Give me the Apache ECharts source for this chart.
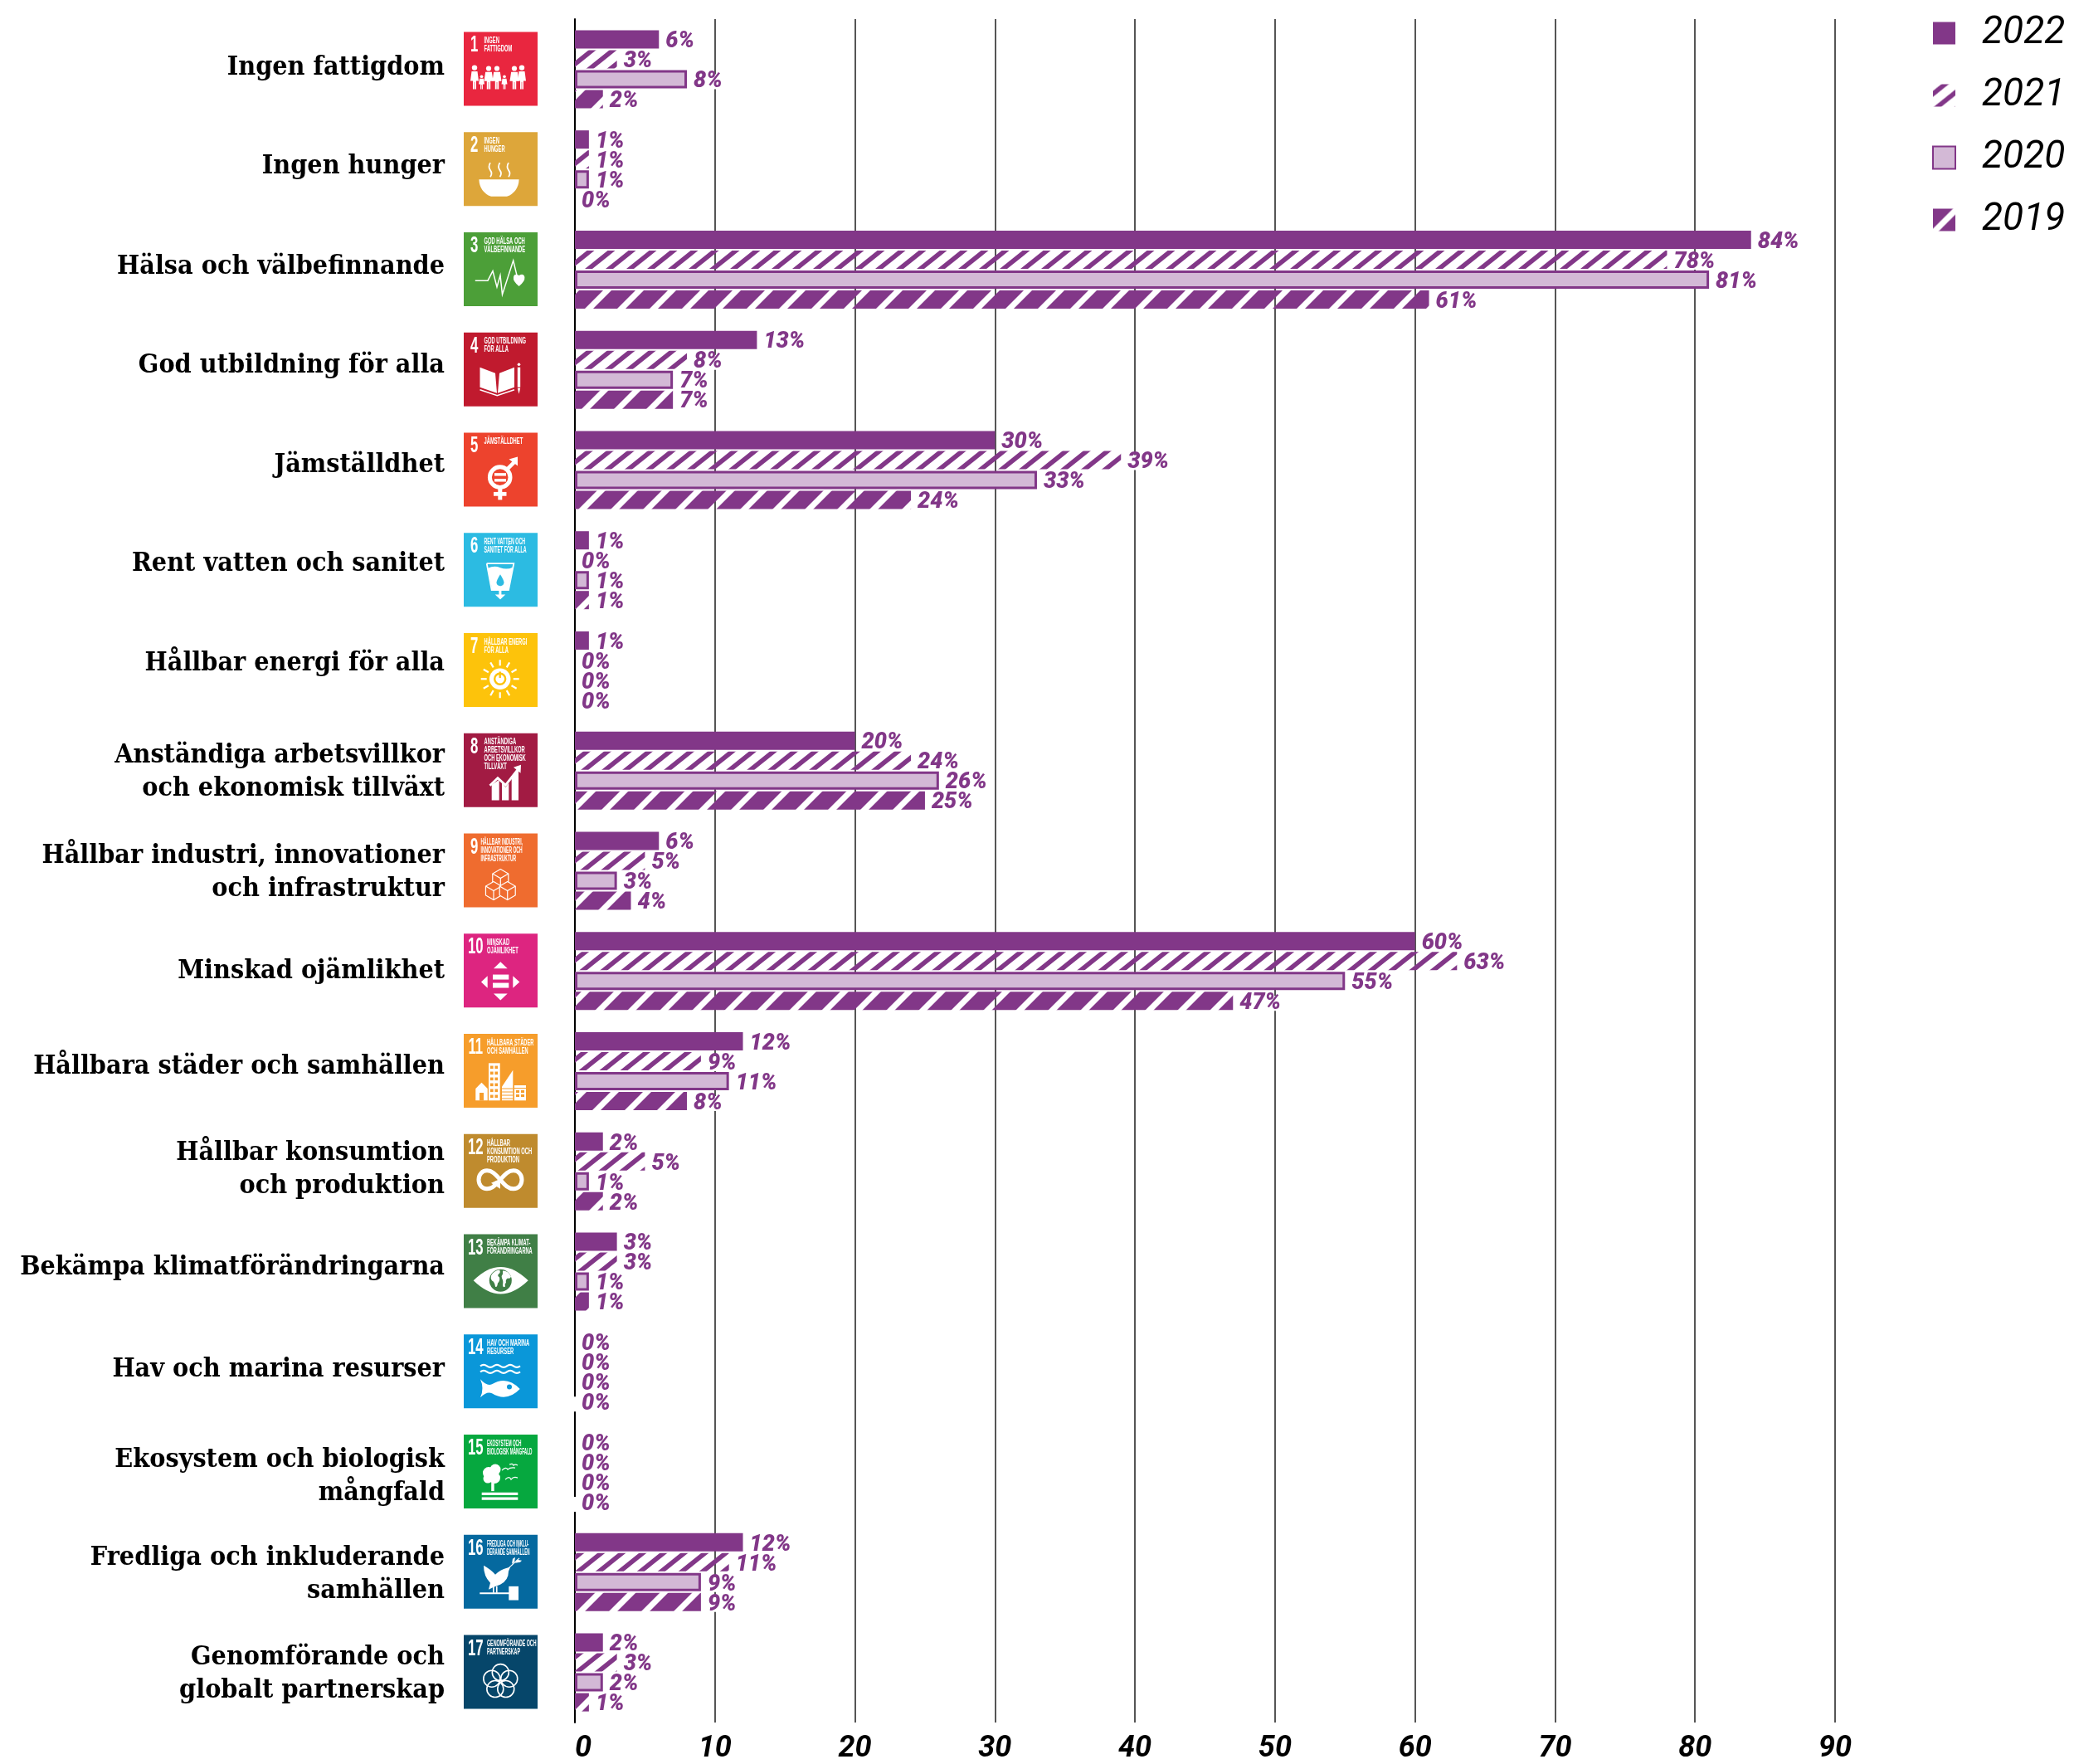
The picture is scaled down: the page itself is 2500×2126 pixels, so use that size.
<!DOCTYPE html>
<html>
<head>
<meta charset="utf-8">
<style>html,body{margin:0;padding:0;background:#fff}#c{width:2500px;height:2126px}</style>
<script src="https://cdn.jsdelivr.net/npm/echarts@6/dist/echarts.min.js"></script>
</head>
<body>
<div id="c"></div>
<script>
var categories = ['Ingen fattigdom','Ingen hunger','Hälsa och välbefinnande','God utbildning för alla','Jämställdhet','Rent vatten och sanitet','Hållbar energi för alla','Anständiga arbetsvillkor\noch ekonomisk tillväxt','Hållbar industri, innovationer\noch infrastruktur','Minskad ojämlikhet','Hållbara städer och samhällen','Hållbar konsumtion\noch produktion','Bekämpa klimatförändringarna','Hav och marina resurser','Ekosystem och biologisk\nmångfald','Fredliga och inkluderande\nsamhällen','Genomförande och\nglobalt partnerskap'];
var v2022 = [6,1,84,13,30,1,1,20,6,60,12,2,3,0,0,12,2];
var v2021 = [3,1,78,8,39,0,0,24,5,63,9,5,3,0,0,11,3];
var v2020 = [8,1,81,7,33,1,0,26,3,55,11,1,1,0,0,9,2];
var v2019 = [2,0,61,7,24,1,0,25,4,47,8,2,1,0,0,9,1];
var tileTitles = ['INGEN\nFATTIGDOM','INGEN\nHUNGER','GOD HÄLSA OCH\nVÄLBEFINNANDE','GOD UTBILDNING\nFÖR ALLA','JÄMSTÄLLDHET','RENT VATTEN OCH\nSANITET FÖR ALLA','HÅLLBAR ENERGI\nFÖR ALLA','ANSTÄNDIGA\nARBETSVILLKOR\nOCH EKONOMISK\nTILLVÄXT','HÅLLBAR INDUSTRI,\nINNOVATIONER OCH\nINFRASTRUKTUR','MINSKAD\nOJÄMLIKHET','HÅLLBARA STÄDER\nOCH SAMHÄLLEN','HÅLLBAR\nKONSUMTION OCH\nPRODUKTION','BEKÄMPA KLIMAT-\nFÖRÄNDRINGARNA','HAV OCH MARINA\nRESURSER','EKOSYSTEM OCH\nBIOLOGISK MÅNGFALD','FREDLIGA OCH INKLU-\nDERANDE SAMHÄLLEN','GENOMFÖRANDE OCH\nPARTNERSKAP'];
var tileColors = ['#e9263f','#dda63a','#4c9f38','#c01a2e','#ed432d','#2cbbe2','#fdc30b','#a21b43','#ef6c2f','#dd2580','#f69d2b','#bf8b2e','#407f46','#0a97d9','#06a83f','#05699f','#06466a'];
var labelNudge = [-2,-3,-3,-5,-6,-8,-8,2,2,0,-5,-2,-5,-3,6,3,2];
var axisCutRows = [13, 14];
var PURPLE = '#823788', LIGHT = '#d3b9d6', W = '#fff';

function hatch(pw, ph, width, phase) {
  var c = document.createElement('canvas');
  c.width = pw; c.height = ph;
  var g = c.getContext('2d');
  g.fillStyle = PURPLE;
  for (var k = -2; k <= 3; k++) {
    var x = k * pw + phase;
    g.beginPath();
    g.moveTo(x, 0); g.lineTo(x + width, 0); g.lineTo(x + width - pw, ph); g.lineTo(x - pw, ph);
    g.closePath(); g.fill();
  }
  return c;
}

/* tile pictogram helpers: coordinates are inside a 89 x 89 tile */
function P(d, fill, stroke, lw) {
  return {type:'path', shape:{pathData:'M0 0L0 0M89 89L89 89' + d, x:0, y:0, width:89, height:89, layout:'cover'},
          style:{fill:fill === undefined ? W : fill, stroke:stroke || null, lineWidth:lw || 0}};
}
function poly(pts, fill) { return {type:'polygon', shape:{points:pts}, style:{fill:fill || W}}; }
function line(pts, lw, col) { return {type:'polyline', shape:{points:pts}, style:{fill:null, stroke:col || W, lineWidth:lw || 1.5}}; }
function rect(x, y, w, h, fill) { return {type:'rect', shape:{x:x, y:y, width:w, height:h}, style:{fill:fill || W}}; }
function circ(x, y, r, fill) { return {type:'circle', shape:{cx:x, cy:y, r:r}, style:{fill:fill || W}}; }
function rng(x, y, r, lw, col) { return {type:'circle', shape:{cx:x, cy:y, r:r}, style:{fill:null, stroke:col || W, lineWidth:lw}}; }
function person(cx, top, h, w) {
  var r = h * 0.11;
  return [circ(cx, top + r, r), poly([[cx - w * .35, top + 2.4 * r], [cx + w * .35, top + 2.4 * r], [cx + w * .5, top + h * .66], [cx + w * .2, top + h * .66], [cx + w * .2, top + h], [cx + .3, top + h], [cx + .3, top + h * .7], [cx - .3, top + h * .7], [cx - .3, top + h], [cx - w * .2, top + h], [cx - w * .2, top + h * .66], [cx - w * .5, top + h * .66]])];
}
function cube(cx, cy, r, col) {
  var h = r * .866, lw = 1.2;
  return [poly([[cx, cy - r], [cx + h, cy - r / 2], [cx + h, cy + r / 2], [cx, cy + r], [cx - h, cy + r / 2], [cx - h, cy - r / 2]], col),
    line([[cx, cy - r], [cx + h, cy - r / 2], [cx + h, cy + r / 2], [cx, cy + r], [cx - h, cy + r / 2], [cx - h, cy - r / 2], [cx, cy - r]], lw),
    line([[cx - h, cy - r / 2], [cx, cy], [cx + h, cy - r / 2]], lw), line([[cx, cy], [cx, cy + r]], lw)];
}
var icons = [
  function () { return [].concat(person(13,40,29,10), person(21.5,52,17,7), person(30,41,28,11), person(40,41,28,11), person(49,52,17,7), person(61,41,28,11), person(70,40,29,10)); },
  function () { return [P('M18.4 57L66.6 57Q66 72 52 77.7L33 77.7Q19 72 18.4 57Z'),
    P('M32 37Q29 42 32 46Q35 50 32 54', null, W, 1.8), P('M43.5 37Q40.5 42 43.5 46Q46.5 50 43.5 54', null, W, 1.8), P('M54 37Q51 42 54 46Q57 50 54 54', null, W, 1.8)]; },
  function () { return [line([[13.8,58.3],[29,58.3],[35,46.7],[40,66],[44,52],[46.5,75],[59.7,34],[64,52]], 1.5),
    P('M66.6 65Q59 59 60 54Q61 49 66.6 52Q72 49 73.4 54Q74 59 66.6 65Z')]; },
  function (c) { return [poly([[19.5,42],[38,49],[40,73],[19.5,66]]), poly([[61,42],[43,49],[41,73],[61,66]]), line([[19.5,69],[40.3,76],[61,69]],1.5), rect(64.8,42,3.4,24), poly([[64.8,67],[68.2,67],[66.5,74]]), circ(66.5,38.5,1.8)]; },
  function (c) { return [rng(43.7,53.7,12.3,5), line([[52,44.5],[63,33.5]],4.5), poly([[54.5,32],[65,29],[65,40]]), rect(41.3,66,5,15), rect(36,71.5,15.5,4.8), rect(37,48.7,14,3.4), rect(37,55.7,14,3.4)]; },
  function (c) { return [line([[27.7,37],[60.3,37],[54,69],[33.7,69],[27.7,37]],1.8), P('M29 42.5Q37 39 44 42Q52 45 59 41.5L53.5 69L34.3 69Z'), P('M44 50Q39 58 39.5 60.5A4.6 4.6 0 0 0 48.5 60.5Q49 58 44 50Z', c), rect(42.4,69,3,7), poly([[37.7,74.3],[50.3,74.3],[44,80.3]])]; },
  function (c) { var out = [circ(43.7,55.3,12.7), rng(43.7,55.3,6.5,2.4,c), rect(42.5,46.5,2.4,7.5,c)];
    for (var i = 0; i < 12; i++) { var a = i * Math.PI / 6, s = Math.sin(a), k = Math.cos(a); out.push(line([[43.7 + 16 * s, 55.3 + 16 * k], [43.7 + 23 * s, 55.3 + 23 * k]], 2.2)); }
    return out; },
  function () { return [poly([[33.7,62],[42.7,56],[42.7,80.7],[33.7,80.7]]), poly([[46,59],[50.5,65],[54.3,60],[54.3,80.7],[46,80.7]]), poly([[57.7,52],[66,44],[66,80.7],[57.7,80.7]]),
    line([[31.5,63],[41,54],[50.5,62.5],[65,44]],2.8), poly([[60,41],[69,38],[68.5,48]])]; },
  function (c) { return [].concat(cube(44.3,54,11,c), cube(36,69,11,c), cube(52.7,69,11,c)); },
  function () { return [poly([[36,42],[52.7,42],[44.3,34]]), poly([[36,72.3],[52.7,72.3],[44.3,80.3]]), poly([[28.7,51],[28.7,65.5],[21,58.3]]), poly([[59.3,51],[59.3,65.5],[67.3,58.3]]), rect(35,49.3,19.3,6), rect(35,59.3,19.3,6)]; },
  function (c) { var o = [poly([[21.5,58.7],[28.7,66],[28.7,80.3],[14.3,80.3],[14.3,66]]), rect(19,71,5,9.3,c), rect(30,35.3,13.7,45), poly([[46,63.7],[59.3,43.7],[59.3,80.3],[46,80.3]]), rect(61,62,14,18.3)], i, j;
    for (i = 0; i < 6; i++) for (j = 0; j < 2; j++) o.push(rect(32 + j * 5.5, 38.5 + i * 7, 3.6, 3.6, c));
    for (i = 0; i < 4; i++) o.push(line([[46, 66 + i * 4], [59.3, 66 + i * 4]], 1, c));
    o.push(rect(61,65,14,1,c), rect(63,68,4,3,c), rect(69,68,4,3,c), rect(63,73,4,3,c), rect(69,73,4,3,c));
    return o; },
  function () { return [P('M44 55C50 48 54 44 60 44C66 44 70 49 70 55C70 61 66 66 60 66C54 66 50 62 44 55C38 48 34 44 28 44C22 44 18 49 18 55C18 61 22 66 28 66C34 66 38 62 41 58', null, W, 5), poly([[33,59],[44,54],[44,66]])]; },
  function (c) { return [P('M11.7 55.7Q44.3 23 77.7 55.7Q44.3 88 11.7 55.7Z'), circ(44.3,55.7,13.5,c),
    P('M33 50Q36 44 43 43Q45 46 42 48Q40 50 43 52Q44 56 41 59Q40 65 38 63Q37 57 34 56Q32 53 33 50Z'),
    P('M47 44Q54 44 57 51Q56 54 53 53Q50 55 51 58Q49 60 50 63Q47 65 47 61Q48 56 46 53Q45 50 47 48Z')]; },
  function (c) { return [P('M20 38Q24 35 28 38T36 38T44 38T52 38T60 38T68 38', null, W, 2.2), P('M20 45Q24 42 28 45T36 45T44 45T52 45T60 45T68 45', null, W, 2.2),
    P('M67.7 65.7Q52 49 34 60Q28 63 20 54Q25 65 20 76Q28 68 34 71Q52 82 67.7 65.7Z'), circ(55,63.3,3,c)]; },
  function () { return [circ(30,46,7), circ(38,42,6.5), circ(37,52,7), circ(29,53,5.5), rect(33.2,58,3.5,10), rect(21.7,69.7,43.6,3.3), rect(21.7,75.3,43.6,3.3),
    P('M46 43Q51 38 53 42Q56 39 62 40', null, W, 1.2), P('M50 54Q55 49 57 54Q60 50 65 52', null, W, 1.2), P('M55 36Q59 34 60 37Q62 35 65 37', null, W, 1.2)]; },
  function () { return [P('M24 37Q33 42 38 48Q44 42 52 40L56 39L54 44Q54 55 44 60L36 63L30 66L32 58Q24 50 24 37Z'), line([[52,42],[67,28]],1.2), poly([[58,35],[59,29],[62,27],[61,33]]), poly([[62,34],[68,33],[70,31],[64,30]]),
    rect(19.3,69.5,37,2), rect(35,62,1.6,8), rect(39,62,1.6,8), rect(54.3,62,11.7,16.7)]; },
  function () { var o = [], i; for (i = 0; i < 5; i++) { var a = i * 2 * Math.PI / 5; o.push(rng(44.3 + 11 * Math.sin(a), 56 - 11 * Math.cos(a), 10, 1.6)); } return o; }
];

var patt2021 = {image:hatch(25, 20, 9, 10), repeat:'repeat'};
var patt2019 = {image:hatch(39, 39, 29, 34), repeat:'repeat'};

function labelFor() {
  return {show:true, position:'right', distance:5, offset:[0,3], formatter:'{c}%', color:PURPLE, fontFamily:'Roboto', fontWeight:900, fontStyle:'italic', fontSize:27, lineHeight:18, backgroundColor:W, padding:[0,3,0,3]};
}
function barSeries(name, values, style) {
  return {name:name, type:'bar', barWidth:22, barGap:'9.09%', itemStyle:style, label:labelFor(), data:values};
}
var s2020 = v2020.map(function (v) { return v === 0 ? {value:v, itemStyle:{borderWidth:0}} : v; });
var s2019 = v2019.map(function (v, i) {
  return axisCutRows.indexOf(i) >= 0 ? {value:v, label:{distance:-2, padding:[0,3,0,10]}} : v;
});
var yData = categories.map(function (c, i) {
  var n = labelNudge[i] * 2;
  return {value:c, textStyle:{padding:n >= 0 ? [n,0,0,0] : [0,0,-n,0]}};
});
var catFont = {color:'#000', fontFamily:'"DejaVu Serif Condensed"', fontWeight:'bold', fontSize:32, lineHeight:40, align:'right'};

var chart = echarts.init(document.getElementById('c'), null, {renderer:'canvas', devicePixelRatio:1});
chart.setOption({
  animation:false,
  backgroundColor:W,
  grid:{left:693, top:23, width:1519, height:2056, containLabel:false},
  legend:{
    data:['2022','2021','2020','2019'], left:2329, top:17, orient:'vertical', padding:0, itemWidth:27, itemHeight:27, itemGap:29, icon:'rect', selectedMode:false,
    formatter:function (name) { return '{t|' + name + '}'; },
    textStyle:{padding:[0,0,0,27], rich:{t:{fontFamily:'Roboto', fontStyle:'italic', fontWeight:400, fontSize:46, lineHeight:46, color:'#000'}}}
  },
  xAxis:{type:'value', min:0, max:90, interval:10, position:'bottom',
    axisLine:{show:false}, axisTick:{show:false},
    splitLine:{show:true, lineStyle:{color:'#555', width:2}},
    axisLabel:{margin:14, color:'#000', fontFamily:'Roboto', fontStyle:'italic', fontWeight:'bold', fontSize:36, alignMinLabel:'left'}},
  yAxis:{type:'category', inverse:true, data:yData,
    axisLine:{show:true, lineStyle:{color:'#000', width:2}}, axisTick:{show:false},
    axisLabel:{margin:157, align:'right',
      formatter:function (v) { return v.split('\n').map(function (l) { return '{r|' + l + '}'; }).join('\n'); },
      rich:{r:catFont}}},
  series:[
    barSeries('2022', v2022, {color:PURPLE}),
    barSeries('2021', v2021, {color:patt2021}),
    barSeries('2020', s2020, {color:LIGHT, borderColor:PURPLE, borderWidth:3}),
    barSeries('2019', s2019, {color:patt2019}),
    {type:'custom', silent:true, clip:false, encode:{x:0, y:1},
     data:categories.map(function (c, i) { return [0, i]; }),
     renderItem:function (params, api) {
       var i = api.value(1), p = api.coord([0, i]), n = i + 1, col = tileColors[i];
       var titleX = n >= 10 ? 28 : (n === 9 ? 20.5 : 24.5);
       var longest = Math.max.apply(null, tileTitles[i].split('\n').map(function (l) { return l.length; }));
       var titleScale = Math.min(.58, 56 / (longest * 6.6));
       var kids = [rect(0, 0, 89, 89, col),
         {type:'text', x:n >= 10 ? 14.3 : 12.7, y:16.3, scaleX:.6, style:{text:String(n), align:'center', verticalAlign:'middle', fill:W, fontFamily:'"Liberation Sans"', fontWeight:'bold', fontSize:28}},
         {type:'text', x:titleX, y:6, scaleX:titleScale, style:{text:tileTitles[i], align:'left', verticalAlign:'top', fill:W, fontFamily:'"Liberation Sans"', fontWeight:'bold', fontSize:10, lineHeight:10}}
       ].concat(icons[i](col));
       return {type:'group', x:p[0] - 134, y:p[1] - 45, children:kids};
     }}
  ]
});
</script>
</body>
</html>
